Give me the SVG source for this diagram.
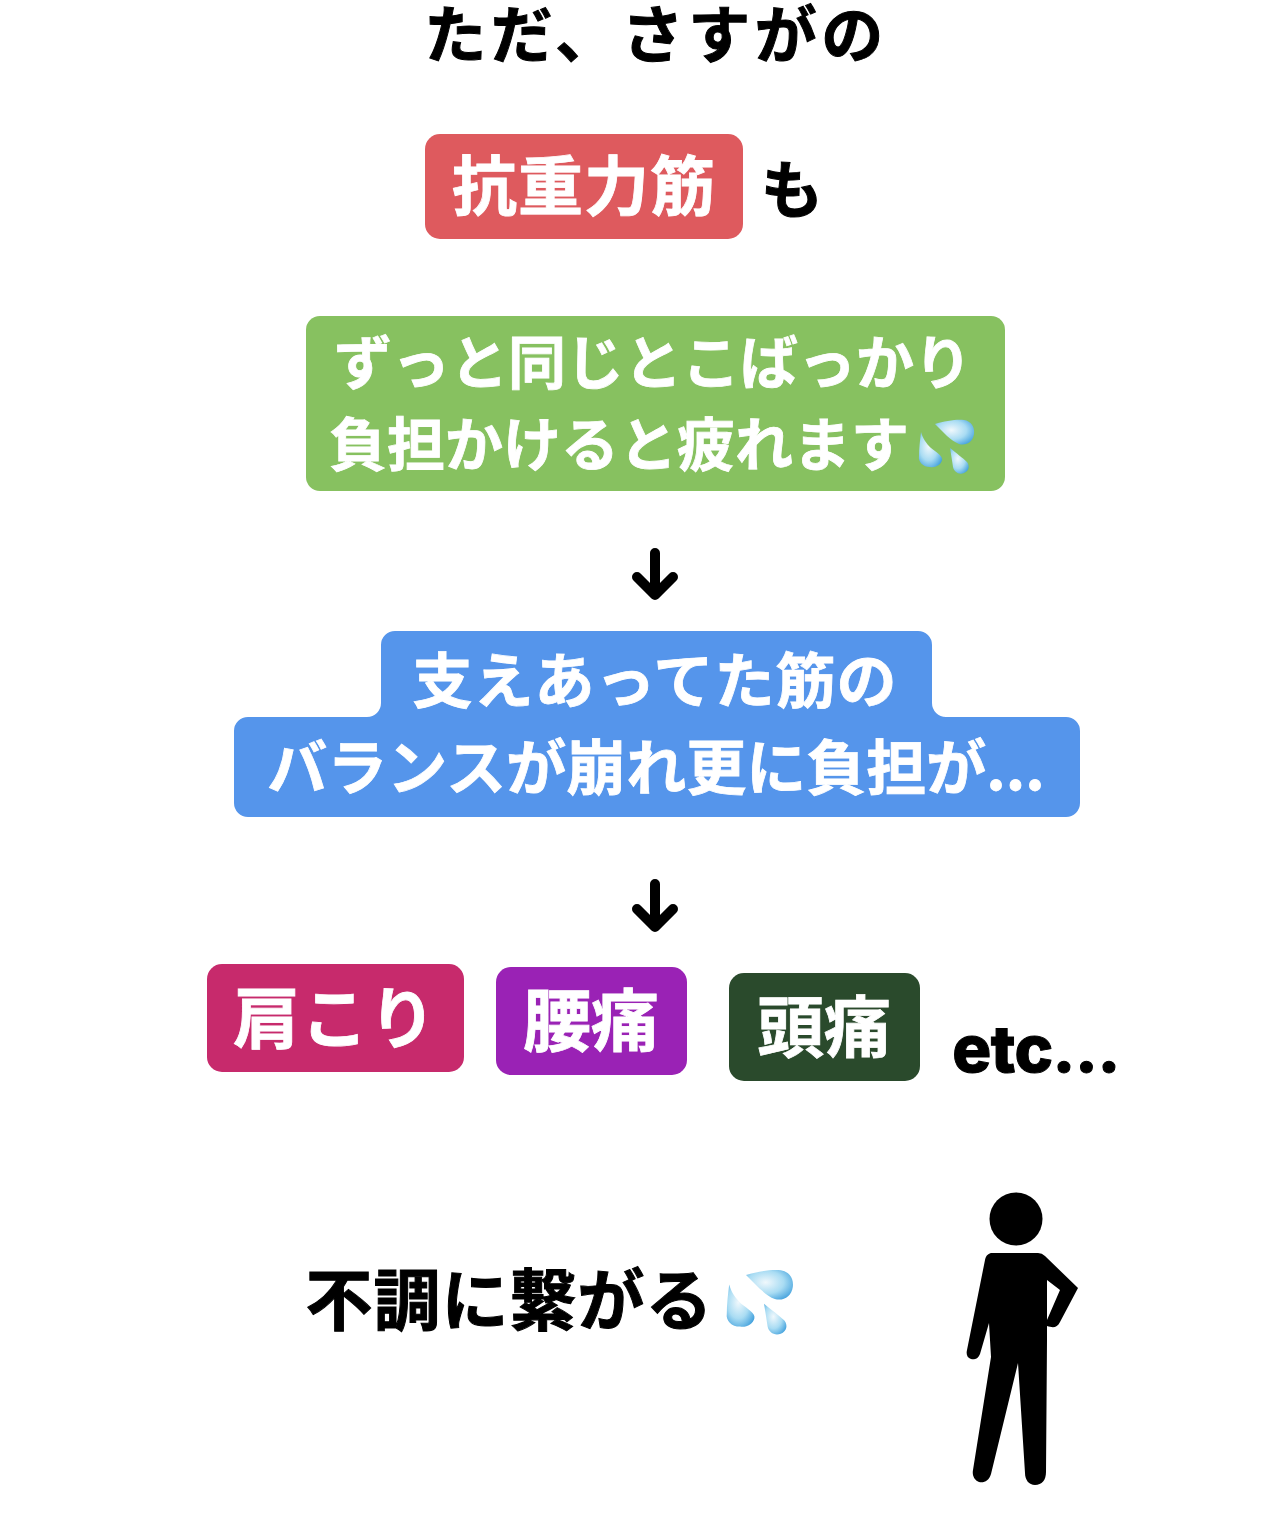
<svg xmlns="http://www.w3.org/2000/svg" xmlns:xlink="http://www.w3.org/1999/xlink" width="1280" height="1535" viewBox="0 0 1280 1535">
<style>
text{font-family:"Noto Sans CJK JP","Noto Sans CJK SC",sans-serif;font-weight:700;text-anchor:middle}
.w{fill:#fff;stroke:#fff;stroke-width:.8}
.k{fill:#000;stroke:#000;stroke-width:1}
.arrow{fill:none;stroke:#000;stroke-width:10;stroke-linecap:round;stroke-linejoin:round}
</style>
<defs>
<radialGradient id="dg" cx=".42" cy=".42" r=".7">
<stop offset="0" stop-color="#f0f8fc"/><stop offset=".55" stop-color="#a9dcf3"/><stop offset="1" stop-color="#3f9fdc"/>
</radialGradient>
<g id="drops">
<path d="M0 0C10-3 22-5 29-4C36-3 40 3 39 10C38 18 31 22 24 20C16 17 8 8 0 0Z" fill="url(#dg)"/>
<path d="M-14 8C-12 15-9 19-4 24C1 28 8 32 7 36C6 41 0 44-5 43C-12 43-17 38-16 32C-16 25-15 16-14 8Z" fill="url(#dg)"/>
<path d="M15 24C21 29 28 34 32 38C35 42 34 47 29 49C24 51 19 48 18 43C17 36 16 30 15 24Z" fill="url(#dg)"/>
</g>
</defs>
<rect width="1280" height="1535" fill="#fff"/>

<g id="title"><text class="k" x="656" y="58" font-size="62" style="letter-spacing:4.5px">ただ、さすがの</text></g>

<g id="node-antigravity">
<rect x="425" y="134" width="318" height="105" rx="15" fill="#de5a5e"/>
<text class="w" x="584" y="210" font-size="65" style="letter-spacing:1px">抗重力筋</text>
</g>
<g id="label-mo"><text class="k" x="792" y="213" font-size="62">も</text></g>

<g id="node-fatigue">
<rect x="306" y="316" width="699" height="175" rx="14" fill="#87c160"/>
<text class="w" x="653" y="384" font-size="58">ずっと同じとこばっかり</text>
<text class="w" x="619" y="466" font-size="58">負担かけると疲れます</text>
<use xlink:href="#drops" href="#drops" transform="translate(935 424)"/>
</g>

<g id="node-balance">
<path d="M381 645a14 14 0 0 1 14-14H918a14 14 0 0 1 14 14V703a14 14 0 0 0 14 14H1066a14 14 0 0 1 14 14V803a14 14 0 0 1-14 14H248a14 14 0 0 1-14-14V731a14 14 0 0 1 14-14H367a14 14 0 0 0 14-14Z" fill="#5595eb"/>
<text class="w" x="655" y="703" font-size="60" style="letter-spacing:1px">支えあってた筋の</text>
<text class="w" x="656" y="790" font-size="60">バランスが崩れ更に負担が...</text>
</g>

<g id="node-shoulder">
<rect x="207" y="964" width="257" height="108" rx="15" fill="#c72a6c"/>
<text class="w" x="335" y="1043" font-size="67" style="letter-spacing:1px">肩こり</text>
</g>
<g id="node-back">
<rect x="496" y="967" width="191" height="108" rx="15" fill="#9a22b5"/>
<text class="w" x="591" y="1046" font-size="68">腰痛</text>
</g>
<g id="node-head">
<rect x="729" y="973" width="191" height="108" rx="15" fill="#2a4a2c"/>
<text class="w" x="824" y="1052" font-size="67">頭痛</text>
</g>
<g id="label-etc"><text class="k" x="1036" y="1072" font-size="65" style="font-family:'Inter','Liberation Sans',sans-serif;font-weight:800;letter-spacing:-.5px">etc...</text></g>

<g id="label-result">
<text class="k" x="509.500" y="1325" font-size="67" style="letter-spacing:1px">不調に繋がる</text>
<use xlink:href="#drops" href="#drops" transform="translate(746 1275)scale(1.2)"/>
</g>

<g id="figure">
<circle cx="1016" cy="1219" r="26.5" fill="#000"/>
<path d="M992 1253H1038Q1042 1253 1045 1256L1078 1288L1060 1322C1057 1328 1053 1328 1047 1326V1340L1046 1472C1046 1480 1042 1485 1035 1485C1029 1485 1025 1480 1025 1473L1018 1363L991 1474C989 1481 984 1483 979 1482C974 1480 972 1475 973 1470L991 1357L989 1323L980 1354C978 1359 974 1360 971 1359C967 1358 966 1354 967 1350L985 1260C986 1255 989 1253 992 1253ZM1047 1320L1060 1290L1047 1280Z" fill="#000" fill-rule="evenodd"/>
</g>

<g id="connectors">
<path class="arrow" d="M655 553V595M637 577L655 595L673 577"/>
<path class="arrow" d="M655 884V927M637 909L655 927L673 909"/>
</g>
</svg>
